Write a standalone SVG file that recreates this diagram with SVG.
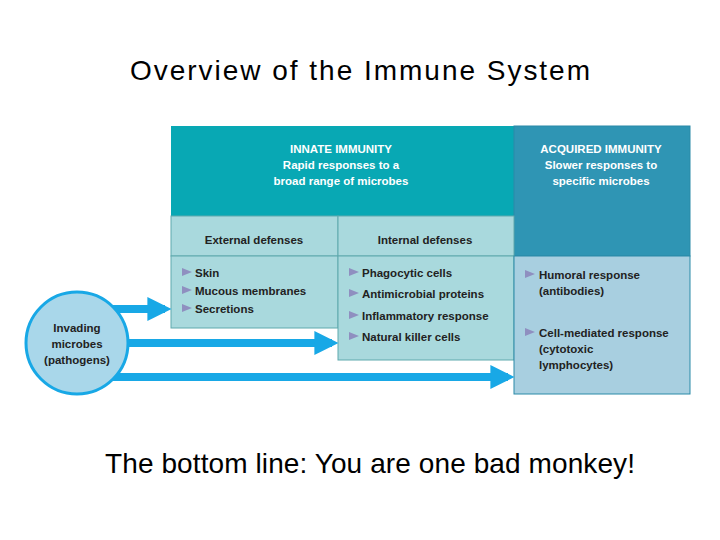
<svg xmlns="http://www.w3.org/2000/svg" width="720" height="540" viewBox="0 0 720 540">
<style>
text{font-family:"Liberation Sans",Arial,sans-serif}
.h{fill:#fff;font-weight:bold;font-size:11.5px;text-anchor:middle}
.s{fill:#222;font-weight:bold;font-size:11.5px}
.c{fill:#222;font-weight:bold;font-size:11.5px;text-anchor:middle}
.b{fill:#8f8fc0}
</style>
<defs><marker id="ah" markerWidth="3" markerHeight="3" refX="2.2" refY="1.5" orient="auto"><path d="M0,0L3,1.5L0,3z" fill="#18a8e6"/></marker></defs>
<rect width="720" height="540" fill="#fff"/>
<text x="360" y="80" font-size="28" textLength="460" lengthAdjust="spacing" text-anchor="middle" fill="#000">Overview of the Immune System</text>
<g id="innate"><rect x="171" y="126" width="343" height="90" fill="#08a8b4"/>
<text class="h" x="341" y="153">INNATE IMMUNITY</text><text class="h" x="341" y="169">Rapid responses to a</text><text class="h" x="341" y="185">broad range of microbes</text></g>
<g id="acquired"><rect x="514" y="126" width="176" height="130" fill="#2f95b4" stroke="#2a8aa8"/>
<text class="h" x="601" y="153">ACQUIRED IMMUNITY</text><text class="h" x="601" y="169">Slower responses to</text><text class="h" x="601" y="185">specific microbes</text></g>
<g id="external"><rect x="171" y="216" width="167" height="40" fill="#a9d9dd" stroke="#5fa9ad"/><text class="c" x="254" y="244">External defenses</text>
<rect x="171" y="256" width="167" height="72" fill="#a9d9dd" stroke="#5fa9ad"/>
<path class="b" d="M182,268l10,4l-10,4z M182,286l10,4l-10,4z M182,304l10,4l-10,4z"/>
<text class="s" x="195" y="277">Skin</text><text class="s" x="195" y="295">Mucous membranes</text><text class="s" x="195" y="313">Secretions</text></g>
<g id="internal"><rect x="338" y="216" width="176" height="40" fill="#a9d9dd" stroke="#5fa9ad"/><text class="c" x="425" y="244">Internal defenses</text>
<rect x="338" y="256" width="176" height="104" fill="#a9d9dd" stroke="#5fa9ad"/>
<path class="b" d="M349,268l10,4l-10,4z M349,289l10,4l-10,4z M349,311l10,4l-10,4z M349,332l10,4l-10,4z"/>
<text class="s" x="362" y="277">Phagocytic cells</text><text class="s" x="362" y="298">Antimicrobial proteins</text><text class="s" x="362" y="320">Inflammatory response</text><text class="s" x="362" y="341">Natural killer cells</text></g>
<g id="acq-resp"><rect x="514" y="256" width="176" height="138" fill="#a8cfe0" stroke="#2a8aa8"/>
<path class="b" d="M525,270l10,4l-10,4z M525,328l10,4l-10,4z"/>
<text class="s" x="539" y="279">Humoral response</text><text class="s" x="539" y="295">(antibodies)</text>
<text class="s" x="539" y="337">Cell-mediated response</text><text class="s" x="539" y="353">(cytotoxic</text><text class="s" x="539" y="369">lymphocytes)</text></g>
<g id="connectors" stroke="#18a8e6" stroke-width="8" fill="none" marker-end="url(#ah)">
<path d="M100,309H165"/><path d="M120,343H332"/><path d="M100,377H508"/></g>
<g id="microbes"><circle cx="77" cy="343" r="51" fill="#a9d7ea" stroke="#18a8e6" stroke-width="3"/>
<text class="c" x="77" y="332">Invading</text><text class="c" x="77" y="348">microbes</text><text class="c" x="77" y="364">(pathogens)</text></g>
<text x="370" y="473" font-size="28" textLength="530" lengthAdjust="spacing" text-anchor="middle" fill="#000">The bottom line: You are one bad monkey!</text>
</svg>
